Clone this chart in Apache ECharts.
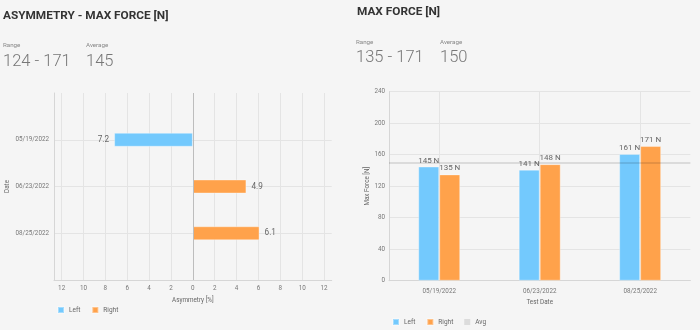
<!DOCTYPE html>
<html><head><meta charset="utf-8">
<script src="https://cdn.jsdelivr.net/npm/echarts@6/dist/echarts.min.js"></script>
<style>html,body{margin:0;padding:0;background:#f5f5f5}#c{width:700px;height:330px}</style>
</head><body><div id="c"></div>
<script>
// ---- data ----
const asymDates = ['05/19/2022', '06/23/2022', '08/25/2022'];
const asymLeft = [7.2, null, null];
const asymRight = [null, 4.9, 6.1];
const asymTicks = [-12, -10, -8, -6, -4, -2, 0, 2, 4, 6, 8, 10, 12];
const asymStatValues = ['124 - 171', '145'];

const forceDates = ['05/19/2022', '06/23/2022', '08/25/2022'];
const forceLeft = [145, 141, 161];
const forceRight = [135, 148, 171];
const forceAvg = 150;
const forceStatValues = ['135 - 171', '150'];

const statLabels = ['Range', 'Average'];
const titles = ['ASYMMETRY - MAX FORCE [N]', 'MAX FORCE [N]'];

// ---- styles ----
const FONT = 'Roboto';
const BLUE = '#73c9fd';
const ORANGE = '#ffa24b';
const LABEL = '#777';
const GRIDLINE = '#e4e4e4';
const AXIS = '#d6d6d6';

const asymCats = [''].concat(asymDates, ['']);
const pad = arr => [null].concat(arr, [null]);

function txt(text, x, y, size, color, weight) {
  return { type: 'text', x: x, y: y, silent: true,
    style: { text: text, fontFamily: FONT, fontSize: size, fontWeight: weight || 'normal',
             fill: color, verticalAlign: 'middle', align: 'left' } };
}

const chart = echarts.init(document.getElementById('c'));
chart.setOption({
  backgroundColor: '#f5f5f5',
  animation: false,
  textStyle: { fontFamily: FONT },
  graphic: [
    txt(titles[0], 3, 16, 11.8, '#333', 'bold'),
    txt(statLabels[0], 3, 45, 6.2, '#888'),
    txt(asymStatValues[0], 3, 61.5, 16.5, '#777', 300),
    txt(statLabels[1], 86, 45, 6.2, '#888'),
    txt(asymStatValues[1], 86, 61.5, 16.5, '#777', 300),
    txt(titles[1], 357, 12.5, 11.8, '#333', 'bold'),
    txt(statLabels[0], 356, 42, 6.2, '#888'),
    txt(forceStatValues[0], 356, 58, 16.5, '#777', 300),
    txt(statLabels[1], 440, 42, 6.2, '#888'),
    txt(forceStatValues[1], 440, 58, 16.5, '#777', 300)
  ],
  legend: [
    { left: 57, top: 306, padding: 0, itemWidth: 6, itemHeight: 6, itemGap: 11,
      icon: 'rect', data: ['Left', 'Right'],
      textStyle: { fontSize: 6.5, color: '#666', fontFamily: FONT } },
    { left: 392, top: 318, padding: 0, itemWidth: 6, itemHeight: 6, itemGap: 11,
      data: [{ name: 'Left', icon: 'rect' }, { name: 'Right', icon: 'rect' },
             { name: 'Avg', icon: 'rect', itemStyle: { color: '#dcdcdc' } }],
      textStyle: { fontSize: 6.5, color: '#666', fontFamily: FONT } }
  ],
  grid: [
    { left: 54, top: 93, width: 277.7, height: 187 },
    { left: 389, top: 91.7, width: 301.4, height: 189 }
  ],
  xAxis: [
    { type: 'value', gridIndex: 0, min: -12.7, max: 12.7,
      axisLine: { show: true, onZero: false, lineStyle: { color: AXIS } },
      axisTick: { show: false, customValues: asymTicks },
      axisLabel: { customValues: asymTicks, formatter: v => Math.abs(v), fontSize: 6.3, color: LABEL, margin: 5 },
      splitLine: { show: true, lineStyle: { color: GRIDLINE } },
      name: 'Asymmetry [%]', nameLocation: 'middle', nameGap: 17,
      nameTextStyle: { fontSize: 6.3, color: '#666' } },
    { type: 'category', gridIndex: 1, data: forceDates,
      axisLine: { show: true, lineStyle: { color: AXIS } },
      axisTick: { show: false },
      axisLabel: { fontSize: 6.3, color: LABEL, margin: 8 },
      splitLine: { show: true, alignWithLabel: true, lineStyle: { color: GRIDLINE } },
      name: 'Test Date', nameLocation: 'middle', nameGap: 17,
      nameTextStyle: { fontSize: 6.3, color: '#666' } }
  ],
  yAxis: [
    { type: 'category', gridIndex: 0, inverse: true, data: asymCats, boundaryGap: false,
      axisLine: { show: true, onZero: false, lineStyle: { color: AXIS } },
      axisTick: { show: false },
      axisLabel: { fontSize: 6.3, color: LABEL, margin: 5 },
      splitLine: { show: true, interval: (i) => i > 0 && i < asymCats.length - 1, lineStyle: { color: GRIDLINE } },
      name: 'Date', nameLocation: 'middle', nameGap: 44,
      nameTextStyle: { fontSize: 6.3, color: '#666' } },
    { type: 'value', gridIndex: 1, min: 0, max: 240, interval: 40,
      axisLine: { show: true, lineStyle: { color: AXIS } },
      axisTick: { show: false },
      axisLabel: { fontSize: 6.3, color: LABEL, margin: 4 },
      splitLine: { show: true, lineStyle: { color: GRIDLINE } },
      name: 'Max Force [N]', nameLocation: 'middle', nameGap: 18,
      nameTextStyle: { fontSize: 6.3, color: '#666' } }
  ],
  series: [
    { name: 'Left', type: 'bar', xAxisIndex: 0, yAxisIndex: 0, stack: 'asym', barWidth: 14,
      data: pad(asymLeft.map(v => v == null ? null : -v)),
      itemStyle: { color: BLUE, borderColor: 'rgba(255,255,255,0.35)', borderWidth: 1 },
      label: { show: true, position: 'left', distance: 5, formatter: p => Math.abs(p.value),
               fontSize: 8.2, color: '#666' },
      markLine: { silent: true, symbol: 'none', label: { show: false },
                  lineStyle: { color: '#bdbdbd', type: 'solid', width: 1 },
                  data: [{ xAxis: 0 }] } },
    { name: 'Right', type: 'bar', xAxisIndex: 0, yAxisIndex: 0, stack: 'asym', barWidth: 14,
      data: pad(asymRight),
      itemStyle: { color: ORANGE, borderColor: 'rgba(255,255,255,0.35)', borderWidth: 1 },
      label: { show: true, position: 'right', distance: 5, fontSize: 8.2, color: '#666' } },
    { name: 'Left', type: 'bar', xAxisIndex: 1, yAxisIndex: 1, barWidth: 21, barGap: 0,
      data: forceLeft,
      itemStyle: { color: BLUE, borderColor: 'rgba(255,255,255,0.35)', borderWidth: 1 },
      label: { show: true, position: 'top', distance: 2, formatter: '{c} N', fontSize: 8, color: '#666' } },
    { name: 'Right', type: 'bar', xAxisIndex: 1, yAxisIndex: 1, barWidth: 21, barGap: 0,
      data: forceRight,
      itemStyle: { color: ORANGE, borderColor: 'rgba(255,255,255,0.35)', borderWidth: 1 },
      label: { show: true, position: 'top', distance: 2, formatter: '{c} N', fontSize: 8, color: '#666' } },
    { name: 'Avg', type: 'line', xAxisIndex: 1, yAxisIndex: 1, data: [], symbol: 'none',
      itemStyle: { color: '#cfcfcf' }, lineStyle: { color: '#cfcfcf' }, z: 5,
      markLine: { silent: true, symbol: 'none', label: { show: false }, z: 5,
                  lineStyle: { color: 'rgba(0,0,0,0.14)', type: 'solid', width: 1.5 },
                  data: [{ yAxis: forceAvg }] } }
  ]
});
</script></body></html>
